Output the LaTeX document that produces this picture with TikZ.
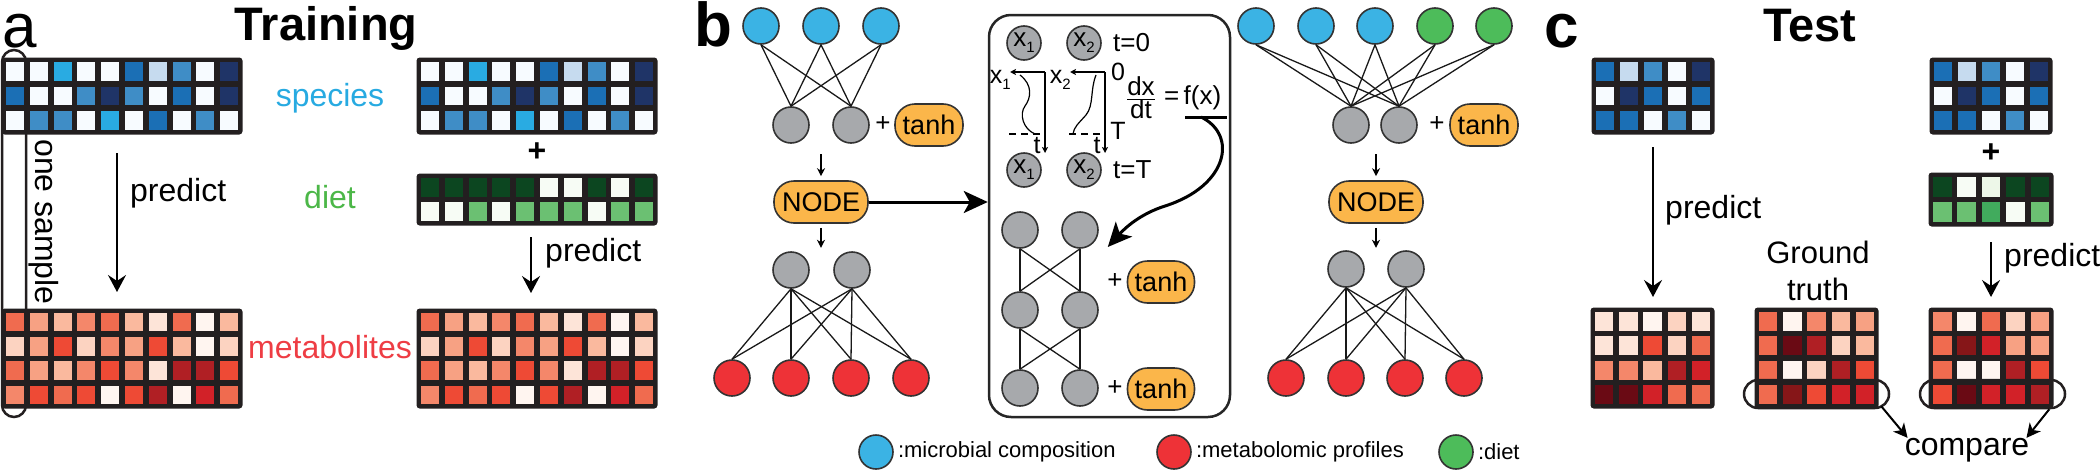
\documentclass[tikz,border=0pt]{standalone}
\usepackage{fontspec}
\setmainfont{Liberation Sans}
\usetikzlibrary{arrows.meta,positioning}

\definecolor{mapline}{HTML}{231F20}
\definecolor{b0}{HTML}{F7FBFF}
\definecolor{b1}{HTML}{C6DBEF}
\definecolor{b2}{HTML}{3F8DC6}
\definecolor{b3}{HTML}{1B6FB5}
\definecolor{b4}{HTML}{1F3467}
\definecolor{bc}{HTML}{29ABE2}
\definecolor{gd}{HTML}{0C4620}
\definecolor{gl}{HTML}{6BC072}
\definecolor{gm}{HTML}{41AB5D}
\definecolor{gw}{HTML}{F7FCF5}
\definecolor{gv}{HTML}{EDF7E8}
\definecolor{m0}{HTML}{FFF5F0}
\definecolor{ml}{HTML}{FDE4D8}
\definecolor{m1}{HTML}{FCD3C1}
\definecolor{m2}{HTML}{FAB99E}
\definecolor{m3}{HTML}{F7A183}
\definecolor{m4}{HTML}{F4876A}
\definecolor{m5}{HTML}{F06B4F}
\definecolor{m6}{HTML}{EE4A35}
\definecolor{m7}{HTML}{D22128}
\definecolor{m8}{HTML}{B01F24}
\definecolor{m9}{HTML}{861618}
\definecolor{mx}{HTML}{6A0A14}
\definecolor{nodeblue}{HTML}{3BB3E4}
\definecolor{nodered}{HTML}{EE3237}
\definecolor{nodegreen}{HTML}{4DBC5A}
\definecolor{nodegrey}{HTML}{A7A9AC}
\definecolor{actorange}{HTML}{FBB64A}
\definecolor{speciestext}{HTML}{27AAE1}
\definecolor{diettext}{HTML}{4CB748}
\definecolor{mettext}{HTML}{EE3D44}

\newcommand{\setsz}[1]{\fontsize{#1}{#1}\selectfont}
\newcommand{\xsub}[1]{x\raisebox{-6pt}{\setsz{15}#1}}
% x0, y0, x1, y1, columns, rows, colours row by row
\newcommand{\heatmap}[7]{%
  \fill[mapline, rounded corners=2pt] (#1,#2) rectangle (#3,#4);
  \foreach \maprow [count=\ri] in {#7} {
    \foreach \cellc [count=\ci] in \maprow {
      \fill[fill=\cellc] ({#1+(\ci-1)*(#3-#1)/#5+2.9},{#2+(\ri-1)*(#4-#2)/#6+2.9})
        rectangle ({#1+\ci*(#3-#1)/#5-2.9},{#2+\ri*(#4-#2)/#6-2.9});
    }
  }
  \draw[mapline, line width=3pt, rounded corners=2pt] (#1,#2) rectangle (#3,#4);
}

\tikzset{
  neuron/.style={circle, draw=black!80, line width=1.6pt, minimum size=36pt, inner sep=0pt},
  specnode/.style={neuron, fill=nodeblue},
  metnode/.style={neuron, fill=nodered},
  dietnode/.style={neuron, fill=nodegreen},
  hidnode/.style={neuron, fill=nodegrey},
  statenode/.style={neuron, fill=nodegrey, minimum size=34pt, font=\setsz{26}},
  actbox/.style={rectangle, rounded corners=20pt, draw=black!80, line width=1.6pt, fill=actorange,
    minimum height=42pt, minimum width=68pt, inner sep=2pt, font=\setsz{27}},
  netlink/.style={line width=1.3pt, draw=black!90},
  smallarrow/.style={line width=1.5pt, -{Stealth[length=8pt, width=8pt, inset=2.5pt]}},
  bigarrow/.style={line width=3pt, -{Stealth[length=24pt, width=22pt, inset=6pt]}},
  predictarrow/.style={line width=2pt, -{Stealth[length=17pt, width=18pt, inset=6pt]}},
  axisarrow/.style={line width=1.2pt, -{Stealth[length=6pt, width=6pt, inset=1.5pt]}},
  panel/.style={anchor=base, inner sep=0pt, font=\bfseries\setsz{62}},
  title/.style={anchor=base, inner sep=0pt, text height=35pt, font=\bfseries\setsz{47}},
  txt/.style={font=\setsz{32}, inner sep=0pt},
  smalltxt/.style={font=\setsz{26}, inner sep=0pt},
  keytxt/.style={font=\setsz{22}, inner sep=0pt}
}

\begin{document}
\begin{tikzpicture}[x=1pt, y=-1pt]
\useasboundingbox (0,0) rectangle (2100,471);

%a
\node[panel, font=\setsz{62}, text height=34pt] (lettera) at (20,47) {a};
\node[title] (training) at (326,40) {Training};
\heatmap{3}{59}{241}{133}{10}{3}{{b0,b0,bc,b0,b0,b3,b1,b2,b0,b4},{b3,b0,b0,b2,b4,b2,b0,b3,b0,b4},{b0,b2,b2,b0,bc,b0,b3,b0,b2,b0}}
\heatmap{418}{59}{656}{133}{10}{3}{{b0,b0,bc,b0,b0,b3,b1,b2,b0,b4},{b3,b0,b0,b2,b4,b2,b0,b3,b0,b4},{b0,b2,b2,b0,bc,b0,b3,b0,b2,b0}}
\heatmap{418}{175}{656}{224}{10}{2}{{gd,gd,gd,gd,gd,gw,gw,gd,gw,gd},{gw,gw,gl,gw,gl,gl,gl,gw,gl,gl}}
\heatmap{3}{310}{241}{407}{10}{4}{{m5,m3,m2,m4,m5,m2,ml,m5,m0,m2},{m1,m3,m6,m1,m4,m3,m6,m2,m0,m1},{m5,m3,m2,m4,m6,m4,ml,m8,m8,m6},{m4,m6,m5,m6,m0,m6,m8,m0,m7,m5}}
\heatmap{418}{310}{656}{407}{10}{4}{{m5,m3,m2,m4,m5,m2,ml,m5,m0,m2},{m1,m3,m6,m1,m4,m3,m6,m2,m0,m1},{m5,m3,m2,m4,m6,m4,ml,m8,m8,m6},{m4,m6,m5,m6,m0,m6,m8,m0,m7,m5}}
\node[txt, text=speciestext] (species) at (330,98) {species};
\node[txt, text=diettext] (diet) at (330,197) {diet};
\node[txt, text=mettext] (metabolites) at (330,347) {metabolites};
\node[font=\bfseries\setsz{32}] (plusa) at (537,152) {+};
\node[draw=mapline, line width=2.5pt, rounded corners=12pt, minimum width=24pt, minimum height=367pt] (samplering) at (14,233.5) {};
\node[txt, rotate=-90] (onesample) at (44,222) {one sample};
\coordinate (pa1) at (117,153);
\coordinate (pa2) at (117,292);
\draw[predictarrow] (pa1) -- (pa2);
\node[txt, anchor=west] (predicta) at (130,193) {predict};
\coordinate (pb1) at (531,237);
\coordinate (pb2) at (531,293);
\draw[predictarrow] (pb1) -- (pb2);
\node[txt, anchor=west] (predictb) at (545,253) {predict};

%b
\node[panel, text height=45pt] (letterb) at (713,46) {b};
\node[specnode] (sa1) at (761,26) {};
\node[specnode] (sa2) at (821,26) {};
\node[specnode] (sa3) at (881,26) {};
\node[hidnode] (ha1) at (791,125) {};
\node[hidnode] (ha2) at (851,125) {};
\node[smalltxt] (plusb1) at (883,124) {+};
\node[actbox] (tanha) at (929,125) {tanh};
\node[actbox, minimum width=94pt] (odeleft) at (821,202) {NODE};
\node[hidnode] (ha3) at (791,270) {};
\node[hidnode] (ha4) at (852,270) {};
\node[metnode] (ma1) at (732,378) {};
\node[metnode] (ma2) at (791,378) {};
\node[metnode] (ma3) at (851,378) {};
\node[metnode] (ma4) at (911,378) {};
\foreach \i in {sa1,sa2,sa3} \foreach \j in {ha1,ha2} \draw[netlink] (\i.south) -- (\j.north);
\foreach \i in {ha3,ha4} \foreach \j in {ma1,ma2,ma3,ma4} \draw[netlink] (\i.south) -- (\j.north);
\draw[smallarrow] ([yshift=26pt]odeleft.north) -- ([yshift=4pt]odeleft.north);
\draw[smallarrow] ([yshift=-4pt]odeleft.south) -- ([yshift=-24pt]odeleft.south);

% ODE block
\node[draw=black!85, line width=2.5pt, rounded corners=22pt, minimum width=241pt, minimum height=402pt] (odebox) at (1109.5,216) {};
\draw[bigarrow] (odeleft.east) -- (odeleft.east -| odebox.west);
\node[statenode] (xa0) at (1024,43) {\xsub{1}};
\node[statenode] (xb0) at (1084,43) {\xsub{2}};
\node[statenode] (xaT) at (1024,170) {\xsub{1}};
\node[statenode] (xbT) at (1084,170) {\xsub{2}};
\node[smalltxt, anchor=west] (tzero) at (1113,43) {t=0};
\node[smalltxt, anchor=west] (tend) at (1113,170) {t=T};
\coordinate (axa) at (1045,72);
\coordinate (axb) at (1105,72);
\draw[axisarrow] (axa) -- (1010,72);
\draw[axisarrow] (axa) -- (1045,153);
\draw[axisarrow] (axb) -- (1070,72);
\draw[axisarrow] (axb) -- (1105,153);
\draw[line width=1.2pt] (1020,75) .. controls (1033,85) and (1031,98) .. (1025,106) .. controls (1019,114) and (1023,129) .. (1035,134);
\draw[line width=1.2pt] (1096,75) .. controls (1090,90) and (1094,105) .. (1086,115) .. controls (1078,124) and (1074,127) .. (1073,134);
\draw[line width=1.2pt, dash pattern=on 7pt off 5pt] (1009,134) -- (1045,134);
\draw[line width=1.2pt, dash pattern=on 7pt off 5pt] (1069,134) -- (1105,134);
\node[font=\setsz{25}, anchor=east, inner sep=0pt] (labxa) at (1011,80) {\xsub{1}};
\node[font=\setsz{25}, anchor=east, inner sep=0pt] (labxb) at (1071,80) {\xsub{2}};
\node[font=\setsz{25}, inner sep=0pt] (labta) at (1037,146) {t};
\node[font=\setsz{25}, inner sep=0pt] (labtb) at (1097,146) {t};
\node[font=\setsz{25}, inner sep=0pt] (labzero) at (1118,72) {0};
\node[font=\setsz{25}, inner sep=0pt] (labT) at (1118,131) {T};
\node[smalltxt] (dxdt) at (1141,98) {$\frac{\mbox{dx}}{\mbox{dt}}$};
\node[smalltxt, anchor=west] (rhs) at (1164,98) {=\,f(x)};
\coordinate (ula) at (1185,117);
\coordinate (ulb) at (1227,117);
\draw[line width=3pt] (ula) -- (ulb);
\node[hidnode] (ia1) at (1020,230) {};
\node[hidnode] (ib1) at (1080,230) {};
\node[hidnode] (ia2) at (1020,310) {};
\node[hidnode] (ib2) at (1080,310) {};
\node[hidnode] (ia3) at (1020,388) {};
\node[hidnode] (ib3) at (1080,388) {};
\foreach \i/\j in {ia1/ia2,ia1/ib2,ib1/ia2,ib1/ib2,ia2/ia3,ia2/ib3,ib2/ia3,ib2/ib3} \draw[netlink] (\i.south) -- (\j.north);
\node[smalltxt] (plusb2) at (1115,281) {+};
\node[actbox, minimum width=67pt] (tanhb) at (1161,282) {tanh};
\node[smalltxt] (plusb3) at (1115,388) {+};
\node[actbox, minimum width=67pt] (tanhc) at (1161,389) {tanh};
\coordinate (fxfrom) at (1201,117);
\draw[bigarrow] (fxfrom) .. controls (1238,135) and (1228,186) .. (1165,206) .. controls (1140,214) and (1125,228) .. ([xshift=9pt, yshift=-17pt]ib1.east);

% right network
\node[specnode] (sb1) at (1256,26) {};
\node[specnode] (sb2) at (1316,26) {};
\node[specnode] (sb3) at (1375,26) {};
\node[dietnode] (db1) at (1435,26) {};
\node[dietnode] (db2) at (1494,26) {};
\node[hidnode] (hb1) at (1351,125) {};
\node[hidnode] (hb2) at (1399,125) {};
\node[smalltxt] (plusb4) at (1437,124) {+};
\node[actbox] (tanhd) at (1484,125) {tanh};
\node[actbox, minimum width=94pt] (oderight) at (1376,202) {NODE};
\node[hidnode] (hb3) at (1346,269) {};
\node[hidnode] (hb4) at (1406,269) {};
\node[metnode] (mb1) at (1286,378) {};
\node[metnode] (mb2) at (1346,378) {};
\node[metnode] (mb3) at (1405,378) {};
\node[metnode] (mb4) at (1464,378) {};
\foreach \i in {sb1,sb2,sb3,db1,db2} \foreach \j in {hb1,hb2} \draw[netlink] (\i.south) -- (\j.north);
\foreach \i in {hb3,hb4} \foreach \j in {mb1,mb2,mb3,mb4} \draw[netlink] (\i.south) -- (\j.north);
\draw[smallarrow] ([yshift=26pt]oderight.north) -- ([yshift=4pt]oderight.north);
\draw[smallarrow] ([yshift=-4pt]oderight.south) -- ([yshift=-24pt]oderight.south);

% key
\node[specnode, minimum size=34pt] (keyspec) at (876,452) {};
\node[keytxt, right=4pt of keyspec] (keyspectxt) {:microbial composition};
\node[metnode, minimum size=34pt] (keymet) at (1174,452) {};
\node[keytxt, right=4pt of keymet] (keymettxt) {:metabolomic profiles};
\node[dietnode, minimum size=34pt] (keydiet) at (1456,452) {};
\node[keytxt, right=4pt of keydiet] (keydiettxt) {:diet};

%c
\node[panel, text height=34pt] (letterc) at (1562,47) {c};
\node[title] (test) at (1810,41) {Test};
\heatmap{1593}{59}{1713}{133}{5}{3}{{b3,b1,b2,b0,b4},{b0,b4,b3,b0,b3},{b3,b3,b0,b2,b0}}
\heatmap{1931}{59}{2051}{133}{5}{3}{{b3,b1,b2,b0,b4},{b0,b4,b3,b0,b3},{b3,b3,b0,b2,b0}}
\node[font=\bfseries\setsz{32}] (plusc) at (1991,153) {+};
\heatmap{1930}{174}{2052}{225}{5}{2}{{gd,gw,gv,gd,gd},{gl,gl,gm,gw,gl}}
\heatmap{1592}{309}{1713}{407}{5}{4}{{ml,ml,m0,m1,ml},{ml,ml,m6,m1,m5},{m4,m4,m2,m8,m7},{mx,mx,m7,m5,m5}}
\heatmap{1756}{309}{1877}{407}{5}{4}{{m5,m0,m4,m2,m3},{m5,mx,m8,m1,m2},{m5,m0,m1,m8,m6},{m5,m9,m6,m7,m7}}
\heatmap{1930}{309}{2052}{407}{5}{4}{{m4,m0,m5,m1,m3},{m5,m9,m7,m3,m3},{m5,m0,m0,m8,m6},{m6,mx,m7,m7,m8}}
\coordinate (pc1) at (1653,147);
\coordinate (pc2) at (1653,297);
\draw[predictarrow] (pc1) -- (pc2);
\node[txt, anchor=west] (predictc) at (1665,210) {predict};
\coordinate (pd1) at (1991,242);
\coordinate (pd2) at (1991,297);
\draw[predictarrow] (pd1) -- (pd2);
\node[txt, anchor=west] (predictd) at (2004,258) {predict};
\node[align=center, font=\fontsize{31}{37}\selectfont, inner sep=0pt] (truth) at (1818,271) {Ground\\truth};
\node[draw=mapline, line width=2.5pt, rounded corners=14pt, minimum width=145pt, minimum height=28pt] (gtring) at (1816.5,394) {};
\node[draw=mapline, line width=2.5pt, rounded corners=14pt, minimum width=145pt, minimum height=28pt] (predring) at (1992.5,394) {};
\node[txt] (compare) at (1967,450) {compare};
\draw[line width=2pt, -{Stealth[length=14pt, width=14pt, inset=4pt]}] ([xshift=-9pt, yshift=3pt]gtring.south east) -- ([xshift=3pt]compare.north west);
\draw[line width=2pt, -{Stealth[length=14pt, width=14pt, inset=4pt]}] ([xshift=-17pt]predring.south east) -- ([xshift=-3pt]compare.north east);
\end{tikzpicture}
\end{document}
